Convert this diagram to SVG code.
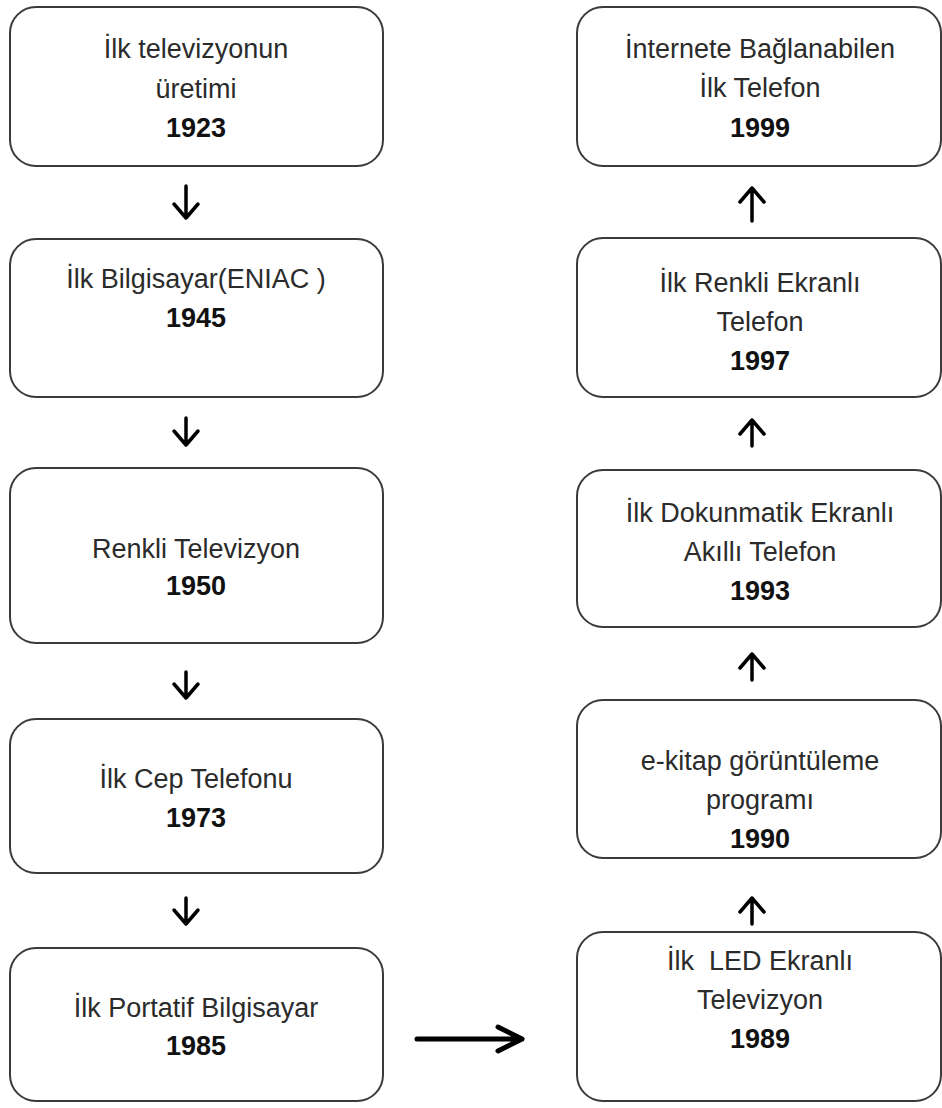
<svg xmlns="http://www.w3.org/2000/svg" width="942" height="1108" viewBox="0 0 942 1108">
<style>
.box{fill:#fff;stroke:#3a3a3a;stroke-width:2}
.t{font-family:"Liberation Sans",Arial,sans-serif;font-size:27px;fill:#2b2b2b;text-anchor:middle}
.y{font-family:"Liberation Sans",Arial,sans-serif;font-size:27px;font-weight:bold;fill:#111;text-anchor:middle}
.a{fill:none;stroke:#000;stroke-width:3.5;stroke-linecap:round;stroke-linejoin:round}
.h{fill:none;stroke:#000;stroke-width:5;stroke-linecap:round;stroke-linejoin:round}
</style>
<rect width="942" height="1108" fill="#fff"/>
<g id="n1923"><rect class="box" x="10" y="7" width="373" height="159" rx="26"/><text class="t" x="196" y="58">İlk televizyonun</text><text class="t" x="196" y="98">üretimi</text><text class="y" x="196" y="137">1923</text></g>
<g id="n1945"><rect class="box" x="10" y="239" width="373" height="158" rx="26"/><text class="t" x="196" y="288">İlk Bilgisayar(ENIAC )</text><text class="y" x="196" y="327">1945</text></g>
<g id="n1950"><rect class="box" x="10" y="468" width="373" height="175" rx="26"/><text class="t" x="196" y="558">Renkli Televizyon</text><text class="y" x="196" y="595">1950</text></g>
<g id="n1973"><rect class="box" x="10" y="719" width="373" height="154" rx="26"/><text class="t" x="196" y="788">İlk Cep Telefonu</text><text class="y" x="196" y="827">1973</text></g>
<g id="n1985"><rect class="box" x="10" y="948" width="373" height="153" rx="26"/><text class="t" x="196" y="1017">İlk Portatif Bilgisayar</text><text class="y" x="196" y="1055">1985</text></g>
<g id="n1999"><rect class="box" x="577" y="7" width="364" height="159" rx="26"/><text class="t" x="760" y="58">İnternete Bağlanabilen</text><text class="t" x="760" y="97">İlk Telefon</text><text class="y" x="760" y="137">1999</text></g>
<g id="n1997"><rect class="box" x="577" y="238" width="364" height="159" rx="26"/><text class="t" x="760" y="292">İlk Renkli Ekranlı</text><text class="t" x="760" y="331">Telefon</text><text class="y" x="760" y="370">1997</text></g>
<g id="n1993"><rect class="box" x="577" y="470" width="364" height="157" rx="26"/><text class="t" x="760" y="522">İlk Dokunmatik Ekranlı</text><text class="t" x="760" y="561">Akıllı Telefon</text><text class="y" x="760" y="600">1993</text></g>
<g id="n1990"><rect class="box" x="577" y="700" width="364" height="158" rx="26"/><text class="t" x="760" y="770">e-kitap görüntüleme</text><text class="t" x="760" y="809">programı</text><text class="y" x="760" y="848">1990</text></g>
<g id="n1989"><rect class="box" x="577" y="932" width="364" height="169" rx="26"/><text class="t" x="760" y="970" xml:space="preserve">İlk  LED Ekranlı</text><text class="t" x="760" y="1009">Televizyon</text><text class="y" x="760" y="1048">1989</text></g>
<g id="connectors">
<path class="a" d="M186 186V218M174 204L186 218L198 204"/>
<path class="a" d="M186 418V445M174 431L186 445L198 431"/>
<path class="a" d="M186 672V698M174 684L186 698L198 684"/>
<path class="a" d="M186 898V924M174 910L186 924L198 910"/>
<path class="a" d="M752 188V221M740 202L752 188L764 202"/>
<path class="a" d="M752 420V446M740 434L752 420L764 434"/>
<path class="a" d="M752 654V680M740 668L752 654L764 668"/>
<path class="a" d="M752 898V924M740 912L752 898L764 912"/>
<path class="h" d="M417 1039H522M498 1027L522 1039L498 1051"/>
</g>
</svg>
